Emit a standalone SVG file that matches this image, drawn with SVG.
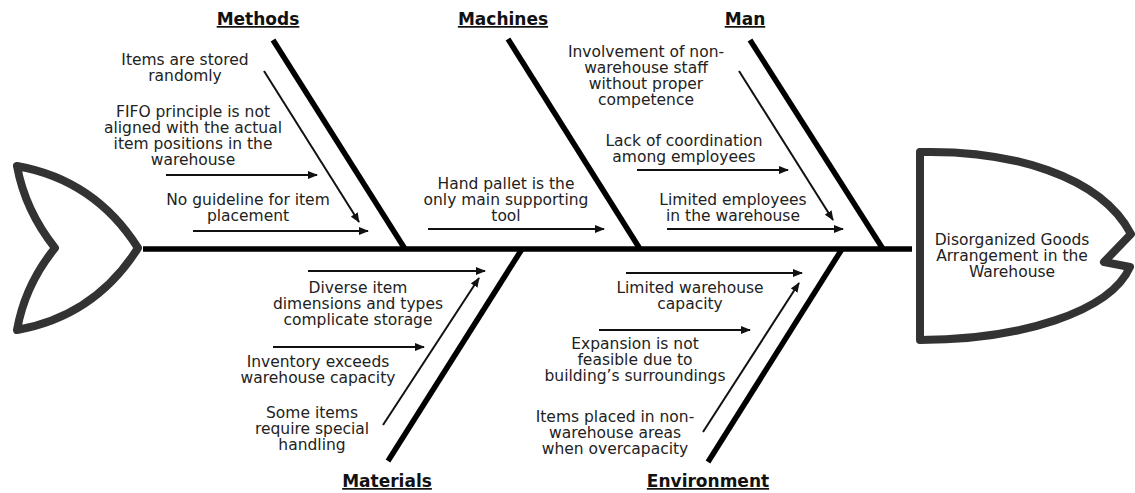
<svg xmlns="http://www.w3.org/2000/svg" width="1135" height="493" viewBox="0 0 1135 493">
<defs>
<marker id="ah" viewBox="0 0 10 8" refX="9" refY="4" markerWidth="10" markerHeight="8" markerUnits="userSpaceOnUse" orient="auto">
<path d="M0,0 L10,4 L0,8 Z" fill="#111"/>
</marker>
<style>
.t{font-family:"DejaVu Sans","Liberation Sans",sans-serif;font-size:15.5px;fill:#222;text-anchor:middle}
.h{font-family:"DejaVu Sans","Liberation Sans",sans-serif;font-size:17px;font-weight:700;fill:#111;text-anchor:middle;text-decoration:underline}
.bone{stroke:#000;stroke-width:5.5;fill:none}
.arr{stroke:#111;stroke-width:2;fill:none;marker-end:url(#ah)}
.shape{fill:#fff;stroke:#333;stroke-width:8;stroke-linejoin:round}
</style>
</defs>
<rect width="1135" height="493" fill="#fff"/>
<g id="connectors">
<line class="bone" x1="143" y1="249" x2="912" y2="249"/>
<line class="bone" x1="273" y1="40" x2="405" y2="249"/>
<line class="bone" x1="508" y1="39" x2="640" y2="249"/>
<line class="bone" x1="750" y1="40" x2="883" y2="249"/>
<line class="bone" x1="522" y1="249" x2="388" y2="461"/>
<line class="bone" x1="842" y1="249" x2="708" y2="462"/>
<line class="arr" x1="264" y1="71" x2="359" y2="222"/>
<line class="arr" x1="166" y1="175" x2="317" y2="175"/>
<line class="arr" x1="193" y1="231" x2="368" y2="231"/>
<line class="arr" x1="428" y1="229" x2="604" y2="229"/>
<line class="arr" x1="739" y1="71" x2="833" y2="220"/>
<line class="arr" x1="637" y1="170" x2="788" y2="170"/>
<line class="arr" x1="667" y1="229" x2="843" y2="229"/>
<line class="arr" x1="308" y1="271" x2="485" y2="271"/>
<line class="arr" x1="273" y1="347" x2="424" y2="347"/>
<line class="arr" x1="383" y1="425" x2="479" y2="278"/>
<line class="arr" x1="626" y1="273" x2="802" y2="273"/>
<line class="arr" x1="599" y1="330" x2="750" y2="330"/>
<line class="arr" x1="703" y1="432" x2="799" y2="283"/>
</g>
<g id="tail">
<path class="shape" stroke-width="7" d="M17,166 Q95,180 138,248 Q95,316 17,330 Q25,285 55,248 Q25,210 17,166 Z"/>
</g>
<g id="head">
<path class="shape" d="M920,152 C1010,150 1100,175 1131,234 L1104,262 L1130,267 C1110,312 1020,340 920,340 Z"/>
<text class="t"><tspan x="1012" y="245">Disorganized Goods</tspan><tspan x="1012" y="261">Arrangement in the</tspan><tspan x="1012" y="277">Warehouse</tspan></text>
</g>
<g id="methods">
<text class="h" x="258" y="25">Methods</text>
<text class="t"><tspan x="185" y="65">Items are stored</tspan><tspan x="185" y="81">randomly</tspan></text>
<text class="t"><tspan x="193" y="117">FIFO principle is not</tspan><tspan x="193" y="133">aligned with the actual</tspan><tspan x="193" y="149">item positions in the</tspan><tspan x="193" y="165">warehouse</tspan></text>
<text class="t"><tspan x="248" y="205">No guideline for item</tspan><tspan x="248" y="221">placement</tspan></text>
</g>
<g id="machines">
<text class="h" x="503" y="25">Machines</text>
<text class="t"><tspan x="506" y="189">Hand pallet is the</tspan><tspan x="506" y="205">only main supporting</tspan><tspan x="506" y="221">tool</tspan></text>
</g>
<g id="man">
<text class="h" x="745" y="25">Man</text>
<text class="t"><tspan x="646" y="57">Involvement of non-</tspan><tspan x="646" y="73">warehouse staff</tspan><tspan x="646" y="89">without proper</tspan><tspan x="646" y="105">competence</tspan></text>
<text class="t"><tspan x="684" y="146">Lack of coordination</tspan><tspan x="684" y="162">among employees</tspan></text>
<text class="t"><tspan x="733" y="205">Limited employees</tspan><tspan x="733" y="221">in the warehouse</tspan></text>
</g>
<g id="materials">
<text class="h" x="387" y="487">Materials</text>
<text class="t"><tspan x="358" y="293">Diverse item</tspan><tspan x="358" y="309">dimensions and types</tspan><tspan x="358" y="325">complicate storage</tspan></text>
<text class="t"><tspan x="318" y="367">Inventory exceeds</tspan><tspan x="318" y="383">warehouse capacity</tspan></text>
<text class="t"><tspan x="312" y="418">Some items</tspan><tspan x="312" y="434">require special</tspan><tspan x="312" y="450">handling</tspan></text>
</g>
<g id="environment">
<text class="h" x="708" y="487">Environment</text>
<text class="t"><tspan x="690" y="293">Limited warehouse</tspan><tspan x="690" y="309">capacity</tspan></text>
<text class="t"><tspan x="635" y="349">Expansion is not</tspan><tspan x="635" y="365">feasible due to</tspan><tspan x="635" y="381">building’s surroundings</tspan></text>
<text class="t"><tspan x="615" y="422">Items placed in non-</tspan><tspan x="615" y="438">warehouse areas</tspan><tspan x="615" y="454">when overcapacity</tspan></text>
</g>
</svg>
